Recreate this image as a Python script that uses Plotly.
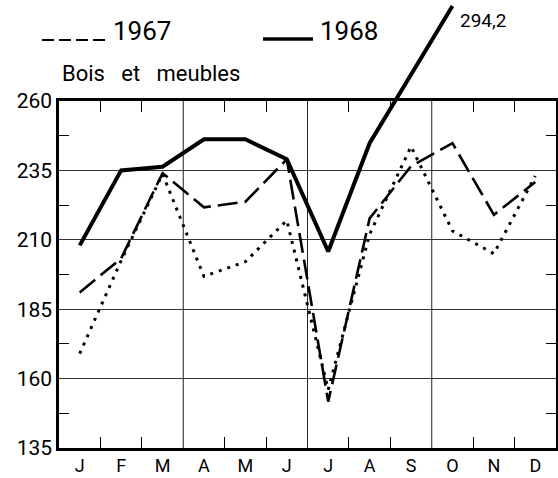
import plotly.graph_objects as go

months = ["J", "F", "M", "A", "M", "J", "J", "A", "S", "O", "N", "D"]
x_pos = [i + 0.5 for i in range(12)]

y1968 = [208, 235, 236.3, 246.2, 246.2, 239, 205.8, 244.8, None, 294.2, None, None]
y1967 = [191, 203.3, 234, 221.7, 223.7, 239, 151.7, 217.7, 236.5, 244.8, 219, 230.8]
y_other = [169, 202.5, 233.7, 196.8, 202.1, 217, 156, 212, 243.6, 213.2, 205, 233]

y_ticks = [135, 160, 185, 210, 235, 260]
y_minor = [147.5, 172.5, 197.5, 222.5, 247.5]
x_minor = [1, 2, 4, 5, 7, 8, 10, 11]
x_grid = [3, 6, 9]

FONT = "Roboto"
W, H = 558, 478
ML, MR, MT, MB = 59, 2, 2, 30
FRAME_TOP_PX = 101  # pixel row of the 260 line

area_w = W - ML - MR
area_h = H - MT - MB
frame_h = (H - MB) - FRAME_TOP_PX
y_lo, y_hi = y_ticks[0], y_ticks[-1]
main_dom_top = frame_h / area_h
ext_top = y_lo + area_h * (y_hi - y_lo) / frame_h


def px(xp):
    return (xp - ML) / area_w


def py(yp):
    return ((H - MB) - yp) / area_h


fig = go.Figure()

fig.add_trace(go.Scatter(
    x=x_pos, y=y_other, mode="lines", showlegend=False,
    line=dict(color="black", width=3, dash="3px,6px"),
))
fig.add_trace(go.Scatter(
    x=x_pos, y=y1967, mode="lines", name="1967", showlegend=False,
    line=dict(color="black", width=2.6, dash="20px,7px"),
))
# 1968 drawn on an invisible, taller overlay subplot with the same scale so
# that the off-scale October value can rise above the frame
fig.add_trace(go.Scatter(
    x=x_pos, y=y1968, mode="lines", name="1968", showlegend=False,
    connectgaps=True, xaxis="x2", yaxis="y2",
    line=dict(color="black", width=4),
))

for g in x_grid:
    fig.add_shape(type="line", xref="x", yref="y", x0=g, x1=g, y0=y_lo, y1=y_hi,
                  line=dict(color="#222", width=1), layer="below")

# custom legend
fig.add_shape(type="line", xref="paper", yref="paper", x0=px(42), x1=px(108),
              y0=py(40), y1=py(40), line=dict(color="black", width=2, dash="12px,5px"))
fig.add_annotation(x=px(111), y=py(31), xref="paper", yref="paper", text="1967",
                   showarrow=False, xanchor="left", yanchor="middle",
                   font=dict(family=FONT, size=26, color="black"))
fig.add_shape(type="line", xref="paper", yref="paper", x0=px(263), x1=px(313),
              y0=py(39), y1=py(39), line=dict(color="black", width=3.5))
fig.add_annotation(x=px(318), y=py(31), xref="paper", yref="paper", text="1968",
                   showarrow=False, xanchor="left", yanchor="middle",
                   font=dict(family=FONT, size=26, color="black"))

fig.add_annotation(x=px(60), y=py(73), xref="paper", yref="paper",
                   text="Bois   et   meubles",
                   showarrow=False, xanchor="left", yanchor="middle",
                   font=dict(family=FONT, size=22, color="black"))

fig.add_annotation(x=9.5, y=294.2, xref="x2", yref="y2", text="294,2",
                   showarrow=False, xanchor="left", yanchor="middle",
                   xshift=6, yshift=-14,
                   font=dict(family=FONT, size=19, color="black"))

fig.update_layout(
    width=W, height=H,
    margin=dict(l=ML, r=MR, t=MT, b=MB, autoexpand=False),
    paper_bgcolor="white", plot_bgcolor="rgba(0,0,0,0)",
    font=dict(family=FONT, color="black"),
    showlegend=False,
    xaxis=dict(
        domain=[0, 1], range=[0, 12], tickvals=x_pos, ticktext=months, ticks="",
        showgrid=False, zeroline=False, anchor="y", automargin=False,
        showline=True, linecolor="black", linewidth=2.5, mirror="ticks",
        ticklabelstandoff=0,
        tickfont=dict(family=FONT, size=18, color="black"),
        minor=dict(tickvals=x_minor, ticks="inside", ticklen=11, tickwidth=1.2,
                   tickcolor="black", showgrid=False),
    ),
    yaxis=dict(
        domain=[0, main_dom_top], range=[y_lo, y_hi], anchor="x", automargin=False,
        tickvals=y_ticks, ticktext=[str(v) for v in y_ticks],
        ticks="", showgrid=True, gridcolor="#333", gridwidth=1, zeroline=False,
        showline=True, linecolor="black", linewidth=2.5, mirror="ticks",
        ticklabelstandoff=0,
        tickfont=dict(family=FONT, size=21, color="black"),
        minor=dict(tickvals=y_minor, ticks="inside", ticklen=10, tickwidth=1.2,
                   tickcolor="black", showgrid=False),
    ),
    xaxis2=dict(domain=[0, 1], range=[0, 12], anchor="y2", visible=False,
                automargin=False),
    yaxis2=dict(domain=[0, 1], range=[y_lo, ext_top], anchor="x2", visible=False,
                automargin=False),
)

fig.write_html("out.html", config={"displayModeBar": False},
               post_script="document.body.style.margin='0';")
